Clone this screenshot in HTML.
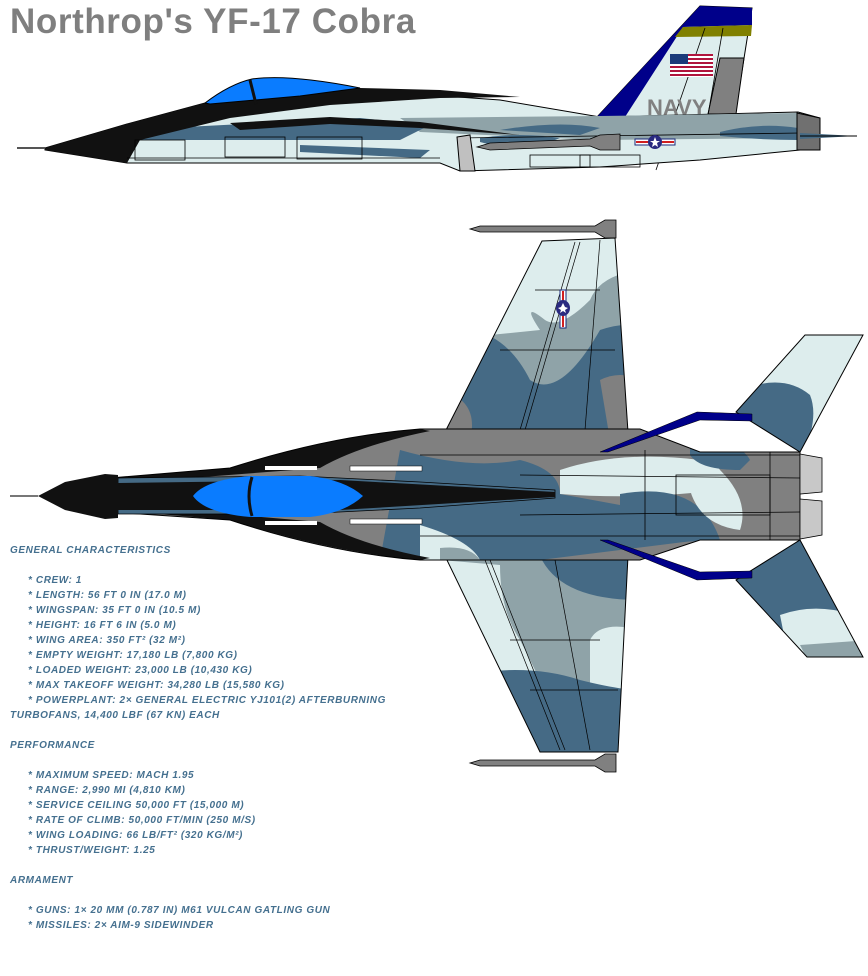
<!DOCTYPE html>
<html><head><meta charset="utf-8">
<style>
html,body{margin:0;padding:0;background:#fff;}
body{width:868px;height:976px;position:relative;overflow:hidden;}
svg{position:absolute;left:0;top:0;}
.t{position:absolute;left:10px;font-family:"Liberation Sans",sans-serif;font-weight:bold;font-style:italic;text-transform:uppercase;font-size:10px;letter-spacing:0.6px;color:#45708f;white-space:nowrap;line-height:12px;}
.i{left:28px;}
#title{position:absolute;left:10px;top:2px;font-family:"Liberation Sans",sans-serif;font-weight:bold;font-size:35px;letter-spacing:0.6px;color:#7f7f7f;white-space:nowrap;}
</style></head><body>
<div id="title">Northrop's YF-17 Cobra</div>
<svg width="868" height="976" viewBox="0 0 868 976">
<defs>
<clipPath id="wu"><polygon points="542,241 615,238 628,432 445,432"/></clipPath>
<clipPath id="wl"><polygon points="445,556 628,556 618,752 540,752"/></clipPath>
<clipPath id="tu"><polygon points="736,412 805,335 863,335 800,452"/></clipPath>
<clipPath id="tl"><polygon points="736,580 807,657 863,657 800,540"/></clipPath>
<clipPath id="bd"><path d="M110,478 L230,468 Q330,436 420,429 L640,429 L700,452 L800,452 L800,540 L700,540 L640,560 L420,560 Q330,553 230,520 L110,512 Z"/></clipPath>
</defs>
<!-- ===== SIDE VIEW ===== -->
<polygon points="597,117 700,6 752,8 735,115" fill="#ddeded" stroke="#000"/>
<polygon points="597,117 700,6 752,8 752,25 683,27 625,117" fill="#00008a"/>
<polygon points="683,27 752,25 751,36 675,37" fill="#808000"/>
<polygon points="720,58 744,58 736,114 708,114" fill="#808080" stroke="#000"/>
<line x1="705" y1="28" x2="656" y2="170" stroke="#000" stroke-width="0.8"/>
<line x1="723" y1="28" x2="708" y2="115" stroke="#000" stroke-width="0.8"/>
<rect x="670" y="54" width="43" height="23" fill="#fff"/>
<g fill="#b0143c"><rect x="670" y="54" width="43" height="2"/><rect x="670" y="58" width="43" height="2"/><rect x="670" y="62" width="43" height="2"/><rect x="670" y="66" width="43" height="2"/><rect x="670" y="70" width="43" height="2"/><rect x="670" y="74" width="43" height="2"/></g>
<rect x="670" y="54" width="18" height="10" fill="#1a3a7a"/>
<text x="647" y="115" font-family="Liberation Sans,sans-serif" font-weight="bold" font-size="22" fill="#808080">NAVY</text>
<path d="M45,148 L127,124 L205,103 L360,90 L500,100 L600,117 L798,112 L820,118 L820,148 L700,160 L600,167 L460,171 L440,163 L127,163 L45,150 Z" fill="#ddeded" stroke="#000"/>
<polygon points="400,118 600,116 798,113 800,138 600,140 420,132" fill="#8fa3a8"/>
<polygon points="127,130 360,118 430,125 400,140 250,140 127,140" fill="#456a85"/>
<polygon points="300,145 430,150 420,158 300,152" fill="#456a85"/>
<path d="M500,130 Q560,120 600,128 L580,135 Z" fill="#456a85"/>
<path d="M720,132 Q760,122 798,128 L798,140 Q760,140 720,136Z" fill="#456a85"/>
<path d="M480,138 Q520,132 560,138 L540,146 Q500,148 480,142Z" fill="#456a85"/>
<path d="M45,148 L127,124 L205,103 L360,88 L440,90 L520,97 L440,98 L330,105 L230,118 L140,140 L127,163 L45,150 Z" fill="#111"/>
<path d="M230,123 L330,117 L420,122 L520,135 L420,128 L330,124 L240,130 Z" fill="#111"/>
<path d="M205,103 Q230,84 252,79 Q290,74 360,88 L300,96 L210,104 Z" fill="#0a7cff" stroke="#000"/>
<line x1="250" y1="80" x2="256" y2="104" stroke="#111" stroke-width="3"/>
<line x1="17" y1="148" x2="45" y2="148" stroke="#555" stroke-width="2"/>
<g stroke="#000" stroke-width="0.8" fill="none">
<rect x="225" y="137" width="60" height="20"/><rect x="297" y="137" width="65" height="22"/>
<rect x="135" y="140" width="50" height="20"/><line x1="127" y1="158" x2="440" y2="158"/>
<rect x="530" y="155" width="60" height="12"/><rect x="580" y="155" width="60" height="12"/>
<line x1="460" y1="138" x2="800" y2="133"/>
</g>
<polygon points="457,137 470,135 475,171 460,171" fill="#c0c0c0" stroke="#000"/>
<polygon points="477,147 490,143 590,139 600,135 620,134 620,150 600,150 590,146 490,150" fill="#808080" stroke="#000" stroke-width="0.8"/>
<polygon points="797,113 820,118 820,150 797,150" fill="#707070" stroke="#000"/>
<polygon points="800,133 857,136 800,139" fill="#456a85"/>
<line x1="800" y1="136" x2="857" y2="136" stroke="#000" stroke-width="1"/>
<rect x="635" y="139" width="40" height="6" fill="#fff" stroke="#1a2a7a"/>
<rect x="636" y="141" width="38" height="2" fill="#d02020"/>
<circle cx="655" cy="142" r="7" fill="#2a2a80"/>
<polygon points="655,137 656.5,141 660,141 657,143 658,147 655,145 652,147 653,143 650,141 653.5,141" fill="#fff"/>

<!-- ===== TOP VIEW ===== -->
<g fill="#808080" stroke="#000" stroke-width="0.8">
<polygon points="470,229 480,226 595,226 605,220 616,220 616,238 605,238 595,232 480,232"/>
<polygon points="470,763 480,760 595,760 605,754 616,754 616,772 605,772 595,766 480,766"/>
</g>
<g clip-path="url(#wu)">
<rect x="440" y="230" width="200" height="210" fill="#8fa3a8"/>
<path d="M440,230 L640,230 L640,270 Q600,275 590,300 Q560,330 545,320 Q520,300 540,330 L440,340Z" fill="#ddeded"/>
<path d="M440,330 Q500,320 530,380 Q560,400 600,330 Q630,320 640,330 L640,440 L440,440Z" fill="#456a85"/>
<path d="M440,390 Q480,400 470,440 L440,440Z" fill="#808080"/>
<path d="M600,380 Q620,370 640,380 L640,440 L610,440Z" fill="#808080"/>
</g>
<polygon points="542,241 615,238 628,432 445,432" fill="none" stroke="#000"/>
<g stroke="#000" stroke-width="0.7" fill="none"><line x1="575" y1="242" x2="520" y2="430"/><line x1="580" y1="242" x2="525" y2="430"/><line x1="600" y1="240" x2="585" y2="430"/><line x1="535" y1="290" x2="600" y2="290"/><line x1="500" y1="350" x2="615" y2="350"/></g>
<g clip-path="url(#wl)">
<rect x="440" y="550" width="200" height="210" fill="#8fa3a8"/>
<path d="M440,560 L500,565 Q500,610 520,640 L540,680 L440,700Z" fill="#ddeded"/>
<path d="M590,640 Q600,620 640,630 L640,720 Q600,720 590,690Z" fill="#ddeded"/>
<path d="M440,680 Q520,660 580,680 Q620,690 640,690 L640,760 L440,760Z" fill="#456a85"/>
<path d="M540,556 Q560,600 640,600 L640,556Z" fill="#456a85"/>
</g>
<polygon points="445,556 628,556 618,752 540,752" fill="none" stroke="#000"/>
<g stroke="#000" stroke-width="0.7" fill="none"><line x1="485" y1="560" x2="560" y2="750"/><line x1="490" y1="560" x2="565" y2="750"/><line x1="555" y1="560" x2="590" y2="750"/><line x1="510" y1="640" x2="600" y2="640"/><line x1="530" y1="690" x2="618" y2="690"/></g>
<g clip-path="url(#tu)"><rect x="730" y="330" width="140" height="130" fill="#ddeded"/><path d="M730,395 Q780,370 810,395 Q820,420 800,460 L730,460Z" fill="#456a85"/></g>
<polygon points="736,412 805,335 863,335 800,452" fill="none" stroke="#000"/>
<g clip-path="url(#tl)"><rect x="730" y="535" width="140" height="130" fill="#456a85"/><path d="M780,615 Q820,600 870,620 L870,665 L790,665Z" fill="#ddeded"/><path d="M800,645 L870,640 L870,665 L810,665Z" fill="#8fa3a8"/></g>
<polygon points="736,580 807,657 863,657 800,540" fill="none" stroke="#000"/>
<g clip-path="url(#bd)">
<rect x="100" y="420" width="710" height="150" fill="#808080"/>
<path d="M400,450 Q470,470 520,460 Q560,470 560,494 L620,505 Q680,520 700,540 L500,565 L380,560Z" fill="#456a85"/>
<path d="M560,470 Q620,450 700,460 Q730,470 720,490 Q640,500 560,494Z" fill="#ddeded"/>
<path d="M620,494 Q700,480 720,540 L620,545Z" fill="#456a85"/>
<path d="M690,470 Q710,455 720,470 Q750,500 740,530 Q700,525 690,490Z" fill="#ddeded"/>
<path d="M690,440 Q740,440 750,460 L740,470 Q700,470 690,455Z" fill="#456a85"/>
<path d="M420,525 Q470,540 480,560 L420,560Z" fill="#ddeded"/>
<path d="M440,548 Q470,545 480,560 L440,560Z" fill="#8fa3a8"/>
</g>
<path d="M110,478 L230,468 Q330,436 420,429 L430,431 Q360,445 320,468 L110,484Z" fill="#111"/>
<path d="M110,510 L230,520 Q330,552 420,560 L430,558 Q360,545 320,522 L110,504Z" fill="#111"/>
<path d="M110,478 L230,468 Q330,436 420,429 L640,429 L700,452 L800,452 L800,540 L700,540 L640,560 L420,560 Q330,553 230,520 L110,512 Z" fill="none" stroke="#000"/>
<polygon points="118,478 300,476 420,482 555,490 555,498 420,508 300,514 118,514" fill="#456a85" stroke="#000" stroke-width="0.8"/>
<polygon points="118,483 340,480 555,492 555,497 340,510 118,510" fill="#111"/>
<polygon points="38,496 65,482 105,474 118,475 118,518 105,519 65,510" fill="#111"/>
<line x1="10" y1="496" x2="38" y2="496" stroke="#777" stroke-width="2"/>
<rect x="265" y="466" width="52" height="4" fill="#fff"/><rect x="265" y="521" width="52" height="4" fill="#fff"/>
<rect x="350" y="466" width="72" height="5" fill="#fff" stroke="#000" stroke-width="0.5"/><rect x="350" y="519" width="72" height="5" fill="#fff" stroke="#000" stroke-width="0.5"/>
<path d="M193,496 Q205,480 250,476 L310,476 Q345,480 363,496 Q345,513 310,517 L250,517 Q205,513 193,496Z" fill="#0a7cff"/>
<path d="M252,477 Q246,496 252,516" stroke="#111" stroke-width="3" fill="none"/>
<polygon points="600,452 697,412 752,414 752,421 700,420 608,452" fill="#00008a" stroke="#000" stroke-width="0.5"/>
<polygon points="600,540 697,580 752,578 752,571 700,572 608,540" fill="#00008a" stroke="#000" stroke-width="0.5"/>
<polygon points="800,454 822,458 822,492 800,494" fill="#c8c8c8" stroke="#000" stroke-width="0.8"/>
<polygon points="800,499 822,501 822,535 800,539" fill="#c8c8c8" stroke="#000" stroke-width="0.8"/>
<g stroke="#000" stroke-width="0.8" fill="none">
<line x1="420" y1="455" x2="800" y2="455"/><line x1="420" y1="536" x2="800" y2="536"/>
<line x1="520" y1="475" x2="800" y2="478"/><line x1="520" y1="515" x2="800" y2="512"/>
<rect x="676" y="475" width="94" height="40"/>
<line x1="645" y1="450" x2="645" y2="540"/><line x1="770" y1="452" x2="770" y2="540"/>
</g>
<rect x="560" y="290" width="6" height="38" fill="#fff" stroke="#1a2a7a"/>
<rect x="562" y="291" width="2" height="36" fill="#d02020"/>
<ellipse cx="563" cy="308" rx="7" ry="8" fill="#2a2a80"/>
<polygon points="563,303 565,307 568,308 565,310 566,313 563,311 560,313 561,310 558,308 561,307" fill="#fff"/>
</svg>

<div class="t" style="top:545px">General characteristics</div>
<div class="t i" style="top:575px">* Crew: 1</div>
<div class="t i" style="top:590px">* Length: 56 ft 0 in (17.0 m)</div>
<div class="t i" style="top:605px">* Wingspan: 35 ft 0 in (10.5 m)</div>
<div class="t i" style="top:620px">* Height: 16 ft 6 in (5.0 m)</div>
<div class="t i" style="top:635px">* Wing area: 350 ft² (32 m²)</div>
<div class="t i" style="top:650px">* Empty weight: 17,180 lb (7,800 kg)</div>
<div class="t i" style="top:665px">* Loaded weight: 23,000 lb (10,430 kg)</div>
<div class="t i" style="top:680px">* Max takeoff weight: 34,280 lb (15,580 kg)</div>
<div class="t i" style="top:695px">* Powerplant: 2× General Electric YJ101(2) afterburning</div>
<div class="t" style="top:710px">turbofans, 14,400 lbf (67 kN) each</div>
<div class="t" style="top:740px">Performance</div>
<div class="t i" style="top:770px">* Maximum speed: Mach 1.95</div>
<div class="t i" style="top:785px">* Range: 2,990 mi (4,810 km)</div>
<div class="t i" style="top:800px">* Service ceiling 50,000 ft (15,000 m)</div>
<div class="t i" style="top:815px">* Rate of climb: 50,000 ft/min (250 m/s)</div>
<div class="t i" style="top:830px">* Wing loading: 66 lb/ft² (320 kg/m²)</div>
<div class="t i" style="top:845px">* Thrust/weight: 1.25</div>
<div class="t" style="top:875px">Armament</div>
<div class="t i" style="top:905px">* Guns: 1× 20 mm (0.787 in) M61 Vulcan Gatling gun</div>
<div class="t i" style="top:920px">* Missiles: 2× AIM-9 Sidewinder</div>
</body></html>
